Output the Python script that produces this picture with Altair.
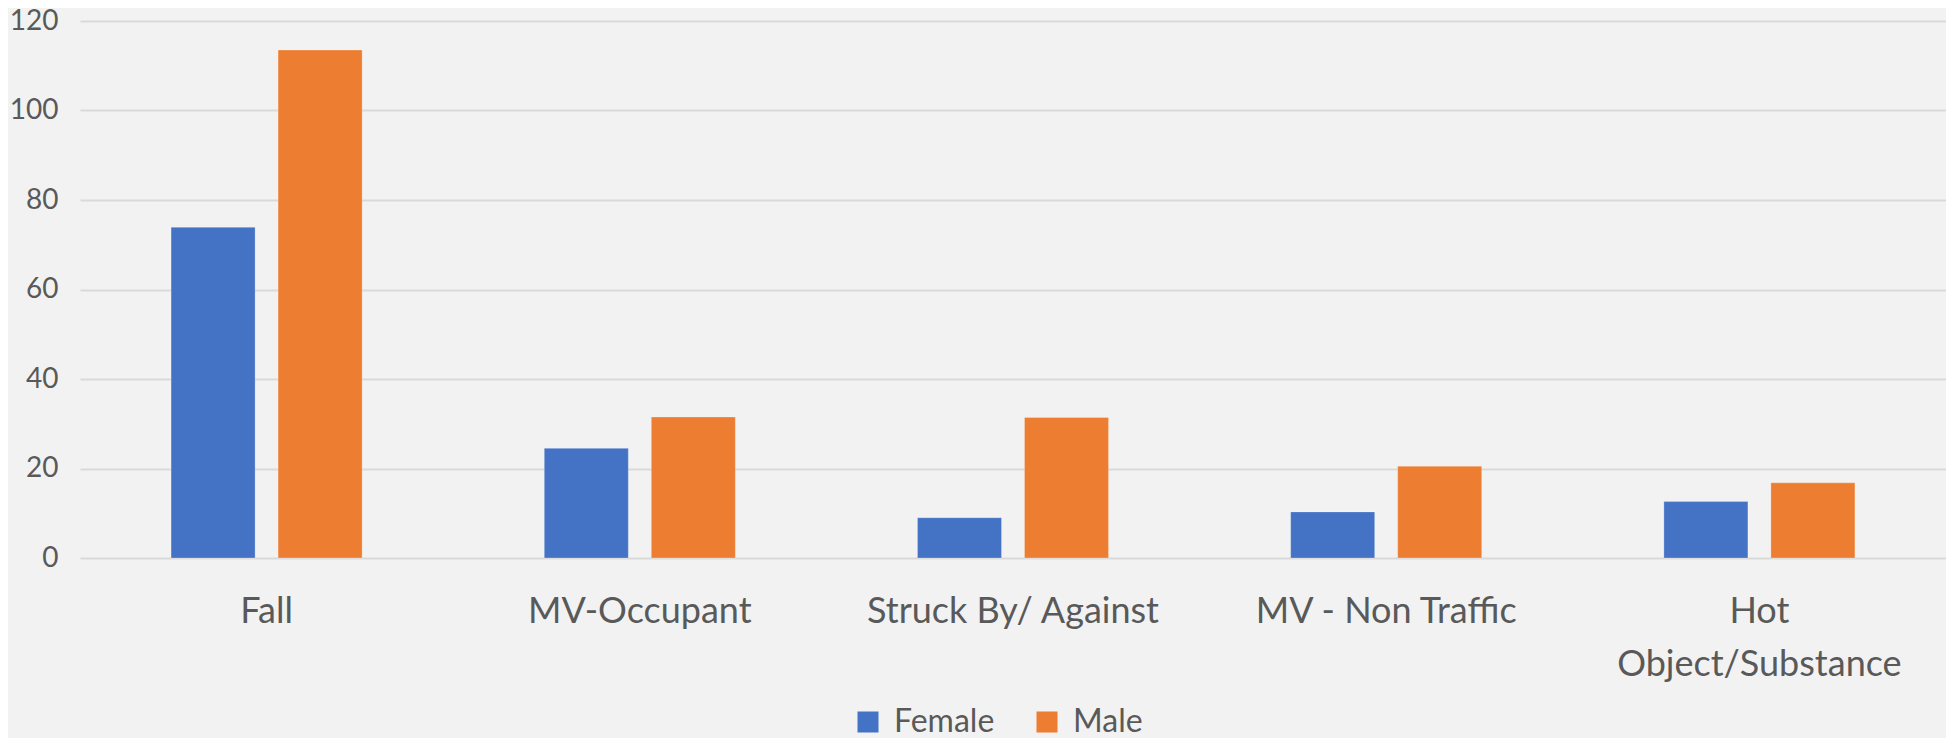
import altair as alt
import pandas as pd

categories = ["Fall", "MV-Occupant", "Struck By/ Against", "MV - Non Traffic", "Hot Object/Substance"]
female = [73.9, 24.5, 9.0, 10.3, 12.6]
male = [113.5, 31.5, 31.4, 20.5, 16.8]
series = ["Female", "Male"]
colors = ["#4472C4", "#ED7D31"]
y_ticks = [0, 20, 40, 60, 80, 100, 120]

rows = []
for c, f, m in zip(categories, female, male):
    rows.append({"category": c, "sex": "Female", "value": f})
    rows.append({"category": c, "sex": "Male", "value": m})
df = pd.DataFrame(rows)

FONT = "Lato"
TXT = "#595959"

chart = alt.Chart(df).mark_bar(stroke="white", strokeOpacity=0.25, strokeWidth=1).encode(
    x=alt.X("category:N", sort=categories, title=None,
            scale=alt.Scale(paddingInner=0, paddingOuter=0),
            axis=alt.Axis(labelAngle=0, ticks=False, tickSize=0, domain=False, grid=False,
                          labelFontSize=36, labelFont=FONT, labelColor=TXT,
                          labelPadding=36, labelLineHeight=53, labelLimit=0,
                          labelExpr="datum.label == 'Hot Object/Substance' ? ['Hot', 'Object/Substance'] : datum.label")),
    xOffset=alt.XOffset("sex:N", sort=series,
                        scale=alt.Scale(paddingInner=0.215, paddingOuter=0.851)),
    y=alt.Y("value:Q", title=None,
            scale=alt.Scale(domain=[0, 120], nice=False),
            axis=alt.Axis(values=y_ticks, ticks=False, domain=False, grid=True,
                          gridColor="#D9D9D9", gridWidth=2,
                          labelFontSize=28, labelFont=FONT, labelColor=TXT,
                          labelPadding=22)),
    color=alt.Color("sex:N", sort=series,
                    scale=alt.Scale(domain=series, range=colors),
                    legend=alt.Legend(title=None, orient="none", direction="horizontal",
                                      legendX=772, legendY=685, padding=0,
                                      symbolType="square", symbolSize=441,
                                      symbolStrokeWidth=0, symbolOpacity=1,
                                      labelFontSize=32, labelFont=FONT, labelColor=TXT,
                                      labelOffset=10, columnPadding=36)),
).properties(
    width=1866, height=537,
    autosize=alt.AutoSizeParams(type="none"),
    padding={"left": 72, "top": 13, "right": 0, "bottom": 180},
    background="#F2F2F2",
).configure_view(stroke=None, fill="#F2F2F2")

chart.save("out.html", embed_options={"renderer": "svg", "actions": False})
